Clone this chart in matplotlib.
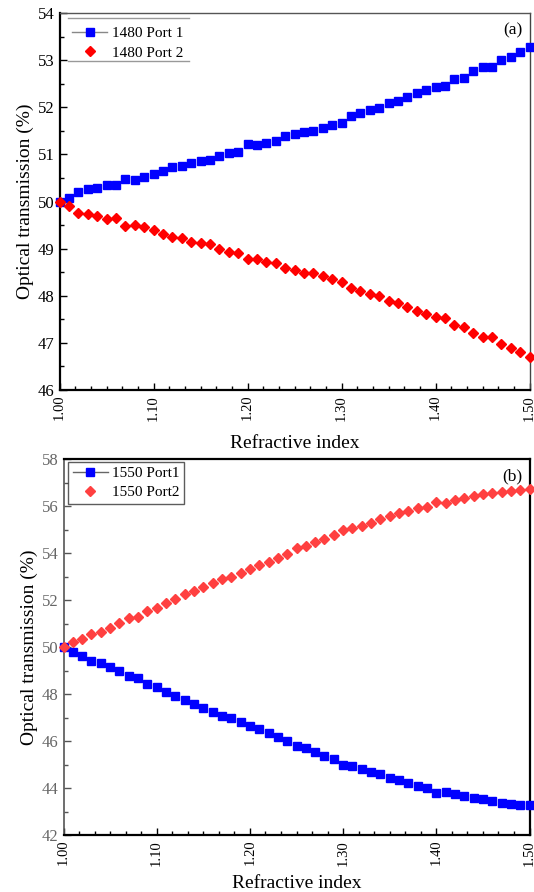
import matplotlib
matplotlib.use("Agg")
import matplotlib.pyplot as plt
from matplotlib.lines import Line2D
from matplotlib.ticker import MultipleLocator, AutoMinorLocator
import numpy as np

plt.rcParams['font.family'] = ['Liberation Serif', 'DejaVu Serif']

refractive_index = [round(1.00 + 0.01 * i, 2) for i in range(51)]

port1_1480 = [50.00, 50.07, 50.21, 50.26, 50.29, 50.35, 50.35, 50.48, 50.46, 50.53,
              50.58, 50.65, 50.74, 50.76, 50.82, 50.85, 50.88, 50.96, 51.03, 51.06,
              51.21, 51.20, 51.25, 51.29, 51.38, 51.44, 51.48, 51.49, 51.56, 51.62,
              51.67, 51.82, 51.87, 51.94, 51.98, 52.10, 52.14, 52.22, 52.30, 52.37,
              52.44, 52.46, 52.59, 52.63, 52.77, 52.85, 52.85, 53.00, 53.07, 53.17,
              53.27]
port2_1480 = [50.00, 49.90, 49.76, 49.73, 49.69, 49.63, 49.64, 49.49, 49.51, 49.45,
              49.40, 49.32, 49.25, 49.22, 49.15, 49.12, 49.10, 49.00, 48.93, 48.91,
              48.77, 48.77, 48.71, 48.69, 48.59, 48.54, 48.49, 48.49, 48.42, 48.35,
              48.30, 48.16, 48.10, 48.03, 47.99, 47.89, 47.84, 47.76, 47.68, 47.61,
              47.54, 47.52, 47.38, 47.33, 47.22, 47.13, 47.13, 46.97, 46.89, 46.81,
              46.70]
port1_1550 = [50.00, 49.77, 49.62, 49.42, 49.30, 49.16, 48.97, 48.78, 48.67, 48.43,
              48.31, 48.10, 47.93, 47.74, 47.57, 47.39, 47.22, 47.08, 46.97, 46.80,
              46.64, 46.50, 46.34, 46.18, 46.00, 45.80, 45.69, 45.52, 45.38, 45.23,
              44.98, 44.95, 44.81, 44.69, 44.58, 44.44, 44.34, 44.23, 44.10, 44.01,
              43.80, 43.82, 43.73, 43.66, 43.59, 43.52, 43.45, 43.38, 43.32, 43.28,
              43.28]
port2_1550 = [50.00, 50.23, 50.34, 50.54, 50.65, 50.79, 51.03, 51.22, 51.29, 51.53,
              51.65, 51.89, 52.04, 52.24, 52.40, 52.57, 52.74, 52.88, 52.99, 53.16,
              53.31, 53.47, 53.63, 53.80, 53.96, 54.20, 54.30, 54.48, 54.58, 54.77,
              54.98, 55.05, 55.15, 55.29, 55.43, 55.57, 55.69, 55.80, 55.90, 55.97,
              56.18, 56.14, 56.26, 56.33, 56.43, 56.50, 56.54, 56.61, 56.65, 56.68,
              56.71]

x_ticks = [1.00, 1.10, 1.20, 1.30, 1.40, 1.50]
x_ticklabels = ['1.00', '1.10', '1.20', '1.30', '1.40', '1.50']

W, H = 534, 892
fig = plt.figure(figsize=(W / 100, H / 100), dpi=100)

def px_axes(l, t, r, b):
    return fig.add_axes([l / W, 1 - b / H, (r - l) / W, (b - t) / H])

ax1 = px_axes(59.5, 13, 529.5, 390)
ax2 = px_axes(63.5, 459, 529.5, 835)

blue = '#0000FF'
red1 = '#FF0000'
red2 = '#FF4040'

ax1.plot(refractive_index, port1_1480, linestyle='none', marker='s', ms=5.5,
         color=blue, mec=blue, clip_on=False, zorder=3)
ax1.plot(refractive_index, port2_1480, linestyle='none', marker='D', ms=5.2,
         color=red1, mec=red1, clip_on=False, zorder=3)
ax2.plot(refractive_index, port1_1550, linestyle='none', marker='s', ms=5.3,
         color=blue, mec=blue, clip_on=False, zorder=3)
ax2.plot(refractive_index, port2_1550, linestyle='none', marker='D', ms=5.0,
         color=red2, mec=red2, clip_on=False, zorder=3)

for ax in (ax1, ax2):
    ax.set_xlim(1.0, 1.5)
    ax.set_xticks(x_ticks)
    ax.set_xticklabels(x_ticklabels, rotation=90, fontsize=10.5)
    ax.xaxis.set_minor_locator(AutoMinorLocator(6))
    ax.yaxis.set_minor_locator(AutoMinorLocator(2))
    ax.tick_params(which='major', direction='in', length=5, width=1.0,
                   top=False, right=False)
    ax.tick_params(axis='y', which='major', labelsize=12)
    ax.tick_params(which='minor', direction='in', length=3, width=1.0,
                   top=False, right=False)
    ax.set_ylabel('Optical transmission (%)', fontsize=14, labelpad=3)

ax1.set_xlabel('Refractive index', fontsize=14, labelpad=10.5)
ax2.set_xlabel('Refractive index', fontsize=14, labelpad=6.5)

ax1.set_ylim(46, 54)
ax1.yaxis.set_major_locator(MultipleLocator(1))
ax2.set_ylim(42, 58)
ax2.yaxis.set_major_locator(MultipleLocator(2))

# spines panel a
ax1.spines['left'].set_linewidth(1.6)
ax1.spines['bottom'].set_linewidth(1.6)
ax1.spines['top'].set_linewidth(1.0)
ax1.spines['top'].set_color('#555555')
ax1.spines['right'].set_linewidth(1.0)
ax1.spines['right'].set_color('#444444')
# spines panel b
ax2.spines['left'].set_linewidth(1.2)
ax2.spines['left'].set_color('#555555')
for s in ('bottom', 'top', 'right'):
    ax2.spines[s].set_linewidth(1.6)
    ax2.spines[s].set_color('black')
ax2.tick_params(axis='y', which='both', colors='#555555', labelcolor='#666666')

# legends
fs_leg = 11
pad_px = 0.3 * fs_leg * 100 / 72
h1 = Line2D([], [], color='#888888', lw=1.0, marker='s', ms=5.5,
            mfc=blue, mec=blue)
h2 = Line2D([], [], linestyle='none', marker='D', ms=5.2, mfc=red1, mec=red1)
leg1 = ax1.legend([h1, h2], ['1480 Port 1', '1480 Port 2'], loc='upper left',
                  bbox_to_anchor=((72 - pad_px - 59.5) / 470,
                                  1 - (20 - 13 - pad_px + 6.5) / 377),
                  frameon=False, fontsize=fs_leg, handlelength=2.3,
                  handletextpad=0.35, borderpad=0.3, labelspacing=0.38,
                  borderaxespad=0.0)
for yy in (18, 61):
    fig.add_artist(Line2D([68 / W, 189 / W], [1 - yy / H, 1 - yy / H],
                          color='#999999', lw=1.0))

h3 = Line2D([], [], color='#666666', lw=1.0, marker='s', ms=5.3,
            mfc=blue, mec=blue)
h4 = Line2D([], [], linestyle='none', marker='D', ms=5.0, mfc=red2, mec=red2)
leg2 = ax2.legend([h3, h4], ['1550 Port1', '1550 Port2'], loc='upper left',
                  bbox_to_anchor=((68 - 63.5) / 466, 1 - (462 - 459) / 376),
                  frameon=True, fontsize=fs_leg, handlelength=2.3,
                  handletextpad=0.3, borderpad=0.3, labelspacing=0.35,
                  fancybox=False, borderaxespad=0.0)
leg2.get_frame().set_edgecolor('#333333')
leg2.get_frame().set_linewidth(1.0)

ax1.text(0.985, 0.975, '(a)', transform=ax1.transAxes, ha='right', va='top',
         fontsize=12.5)
ax2.text(0.985, 0.975, '(b)', transform=ax2.transAxes, ha='right', va='top',
         fontsize=12.5)

fig.savefig('out.png', dpi=100)
